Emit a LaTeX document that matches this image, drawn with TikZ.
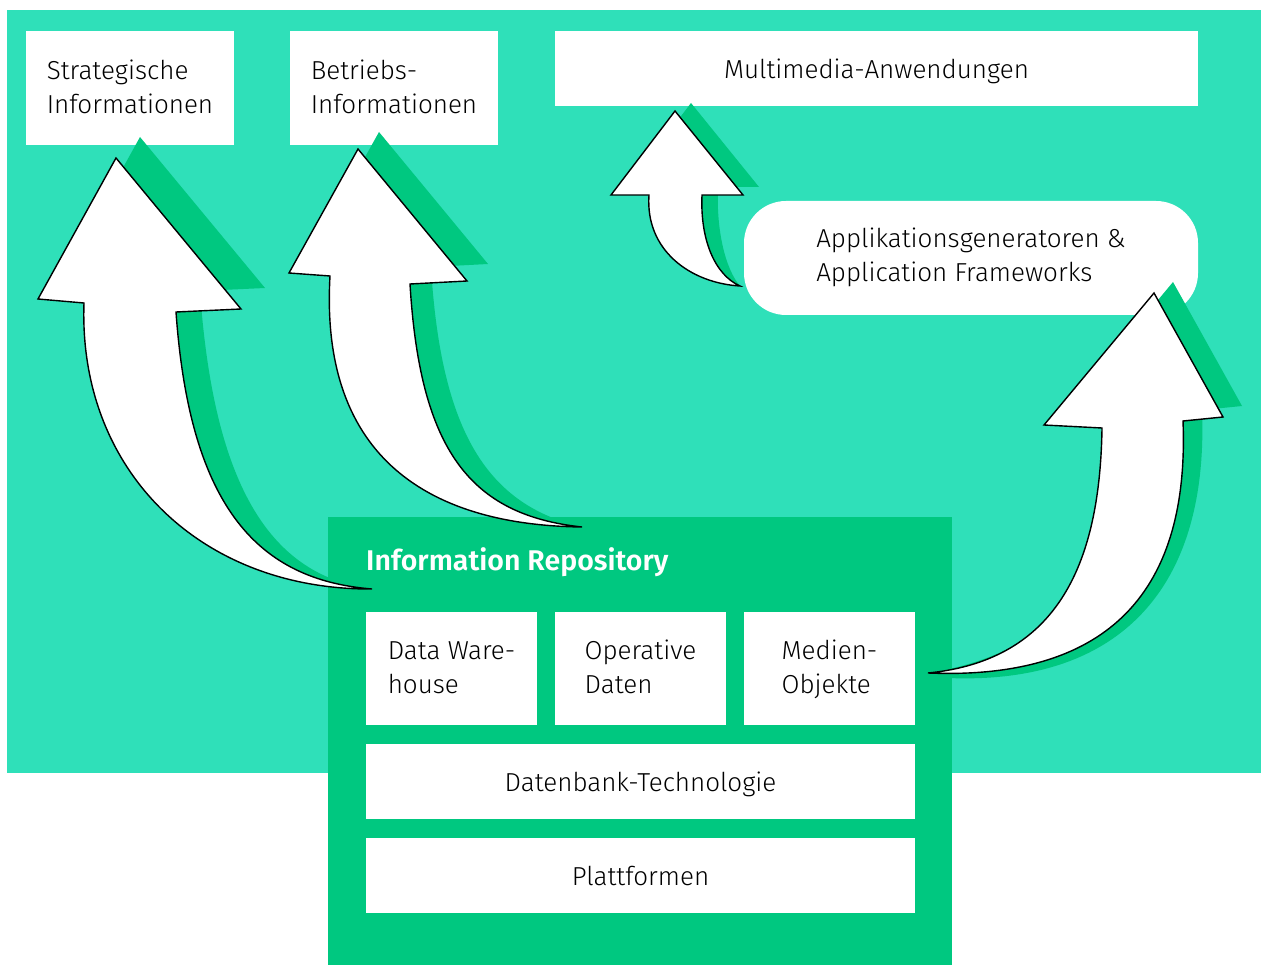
\documentclass[tikz,border=0pt]{standalone}
\usepackage{fontspec}
\setmainfont{Fira Sans}[UprightFont=* Light, BoldFont=* SemiBold]
\definecolor{teal}{RGB}{47,224,185}
\definecolor{dkgreen}{RGB}{0,200,128}
% strut that sets the first line of a two-line label a little lower
\newcommand\firstline{\rule{0pt}{28pt}}
% outlines of the four curved block arrows
\def\arrowStrat{(372,589) .. controls (200,590) and (78,470) .. (84,303) -- (38,299) -- (116,158) -- (241,309) -- (176,312) .. controls (190,510) and (260,580) .. (372,589) -- cycle}
\def\arrowBetr{(582,527) .. controls (420,525) and (320,450) .. (330,276) -- (289,273) -- (358,149) -- (467,281) -- (410,284) .. controls (420,450) and (470,515) .. (582,527) -- cycle}
\def\arrowMulti{(740,286) .. controls (690,283) and (645,250) .. (649,195) -- (611,195) -- (675,111) -- (743,195) -- (702,195) .. controls (700,240) and (715,275) .. (740,286) -- cycle}
\def\arrowMedien{(928,673) .. controls (1060,660) and (1100,560) .. (1102,428) -- (1044,425) -- (1154,293) -- (1223,417) -- (1183,421) .. controls (1190,600) and (1100,680) .. (928,673) -- cycle}
% their drop shadows: head shifted up and right, tail kept in place
\def\shadowStrat{(372,589) .. controls (200,575) and (102,449) .. (108,282) -- (62,278) -- (140,137) -- (265,288) -- (200,291) .. controls (214,489) and (272,576) .. (372,589) -- cycle}
\def\shadowBetr{(582,527) .. controls (441,508) and (341,433) .. (351,259) -- (310,256) -- (379,132) -- (488,264) -- (431,267) .. controls (441,433) and (488,505) .. (582,527) -- cycle}
\def\shadowMulti{(740,286) .. controls (706,275) and (661,242) .. (665,187) -- (627,187) -- (691,103) -- (759,187) -- (718,187) .. controls (716,232) and (726,270) .. (740,286) -- cycle}
\def\shadowMedien{(928,673) .. controls (1079,649) and (1119,549) .. (1121,417) -- (1063,414) -- (1173,282) -- (1242,406) -- (1202,410) .. controls (1209,589) and (1119,685) .. (948,678) -- cycle}
\begin{document}
\begin{tikzpicture}[x=1pt,y=-1pt,
  txt/.style={font=\fontsize{26}{34}\selectfont, text=black},
  wbox/.style={txt, fill=white, inner sep=0pt, align=left},
  oneline/.style={text height=24pt, text depth=4pt},
  shadowfill/.style={fill=dkgreen},
  arrowfill/.style={fill=white, draw=black, line width=1.4pt, line join=miter}]
\useasboundingbox (0,0) rectangle (1266,965);
% backgrounds
\fill[teal] (7,10) rectangle (1261,773);
\node[fill=dkgreen, inner sep=0pt, minimum width=624pt, minimum height=448pt, anchor=north west] (repo) at (328,517) {};
% repository contents
\node[anchor=west, text=white, font=\fontsize{28.5}{30}\selectfont\bfseries, inner sep=0pt, oneline] (repotitle) at (366,560) {Information Repository};
\node[wbox, minimum width=171pt, minimum height=113pt] (dwh) at (451.5,668) {\firstline Data Ware-\\house\strut};
\node[wbox, minimum width=171pt, minimum height=113pt] (opd) at (640.5,668) {\firstline Operative\\Daten\strut};
\node[wbox, minimum width=171pt, minimum height=113pt] (med) at (829.5,668) {\firstline Medien-\\Objekte\strut};
\node[wbox, oneline, minimum width=549pt, minimum height=75pt] (dbt) at (640.5,781.5) {Datenbank-Technologie};
\node[wbox, oneline, minimum width=549pt, minimum height=75pt] (plf) at (640.5,875.5) {Plattformen};
% applications on top
\node[wbox, minimum width=208pt, minimum height=114pt] (strat) at (130,88) {\firstline Strategische\\Informationen\strut};
\node[wbox, minimum width=208pt, minimum height=114pt] (betr) at (394,88) {\firstline Betriebs-\\Informationen\strut};
\node[wbox, oneline, minimum width=643pt, minimum height=75pt] (multi) at (876.5,68.5) {Multimedia-Anwendungen};
\node[wbox, minimum width=454pt, minimum height=114pt, rounded corners=42pt] (gen) at (971,258) {\strut Applikationsgeneratoren \&\\Application Frameworks\strut};
% curved block arrows with their shadows
\fill[shadowfill] \shadowStrat;
\filldraw[arrowfill] \arrowStrat;
\fill[shadowfill] \shadowBetr;
\filldraw[arrowfill] \arrowBetr;
\fill[shadowfill] \shadowMulti;
\filldraw[arrowfill] \arrowMulti;
\fill[shadowfill] \shadowMedien;
\filldraw[arrowfill] \arrowMedien;
\end{tikzpicture}
\end{document}
